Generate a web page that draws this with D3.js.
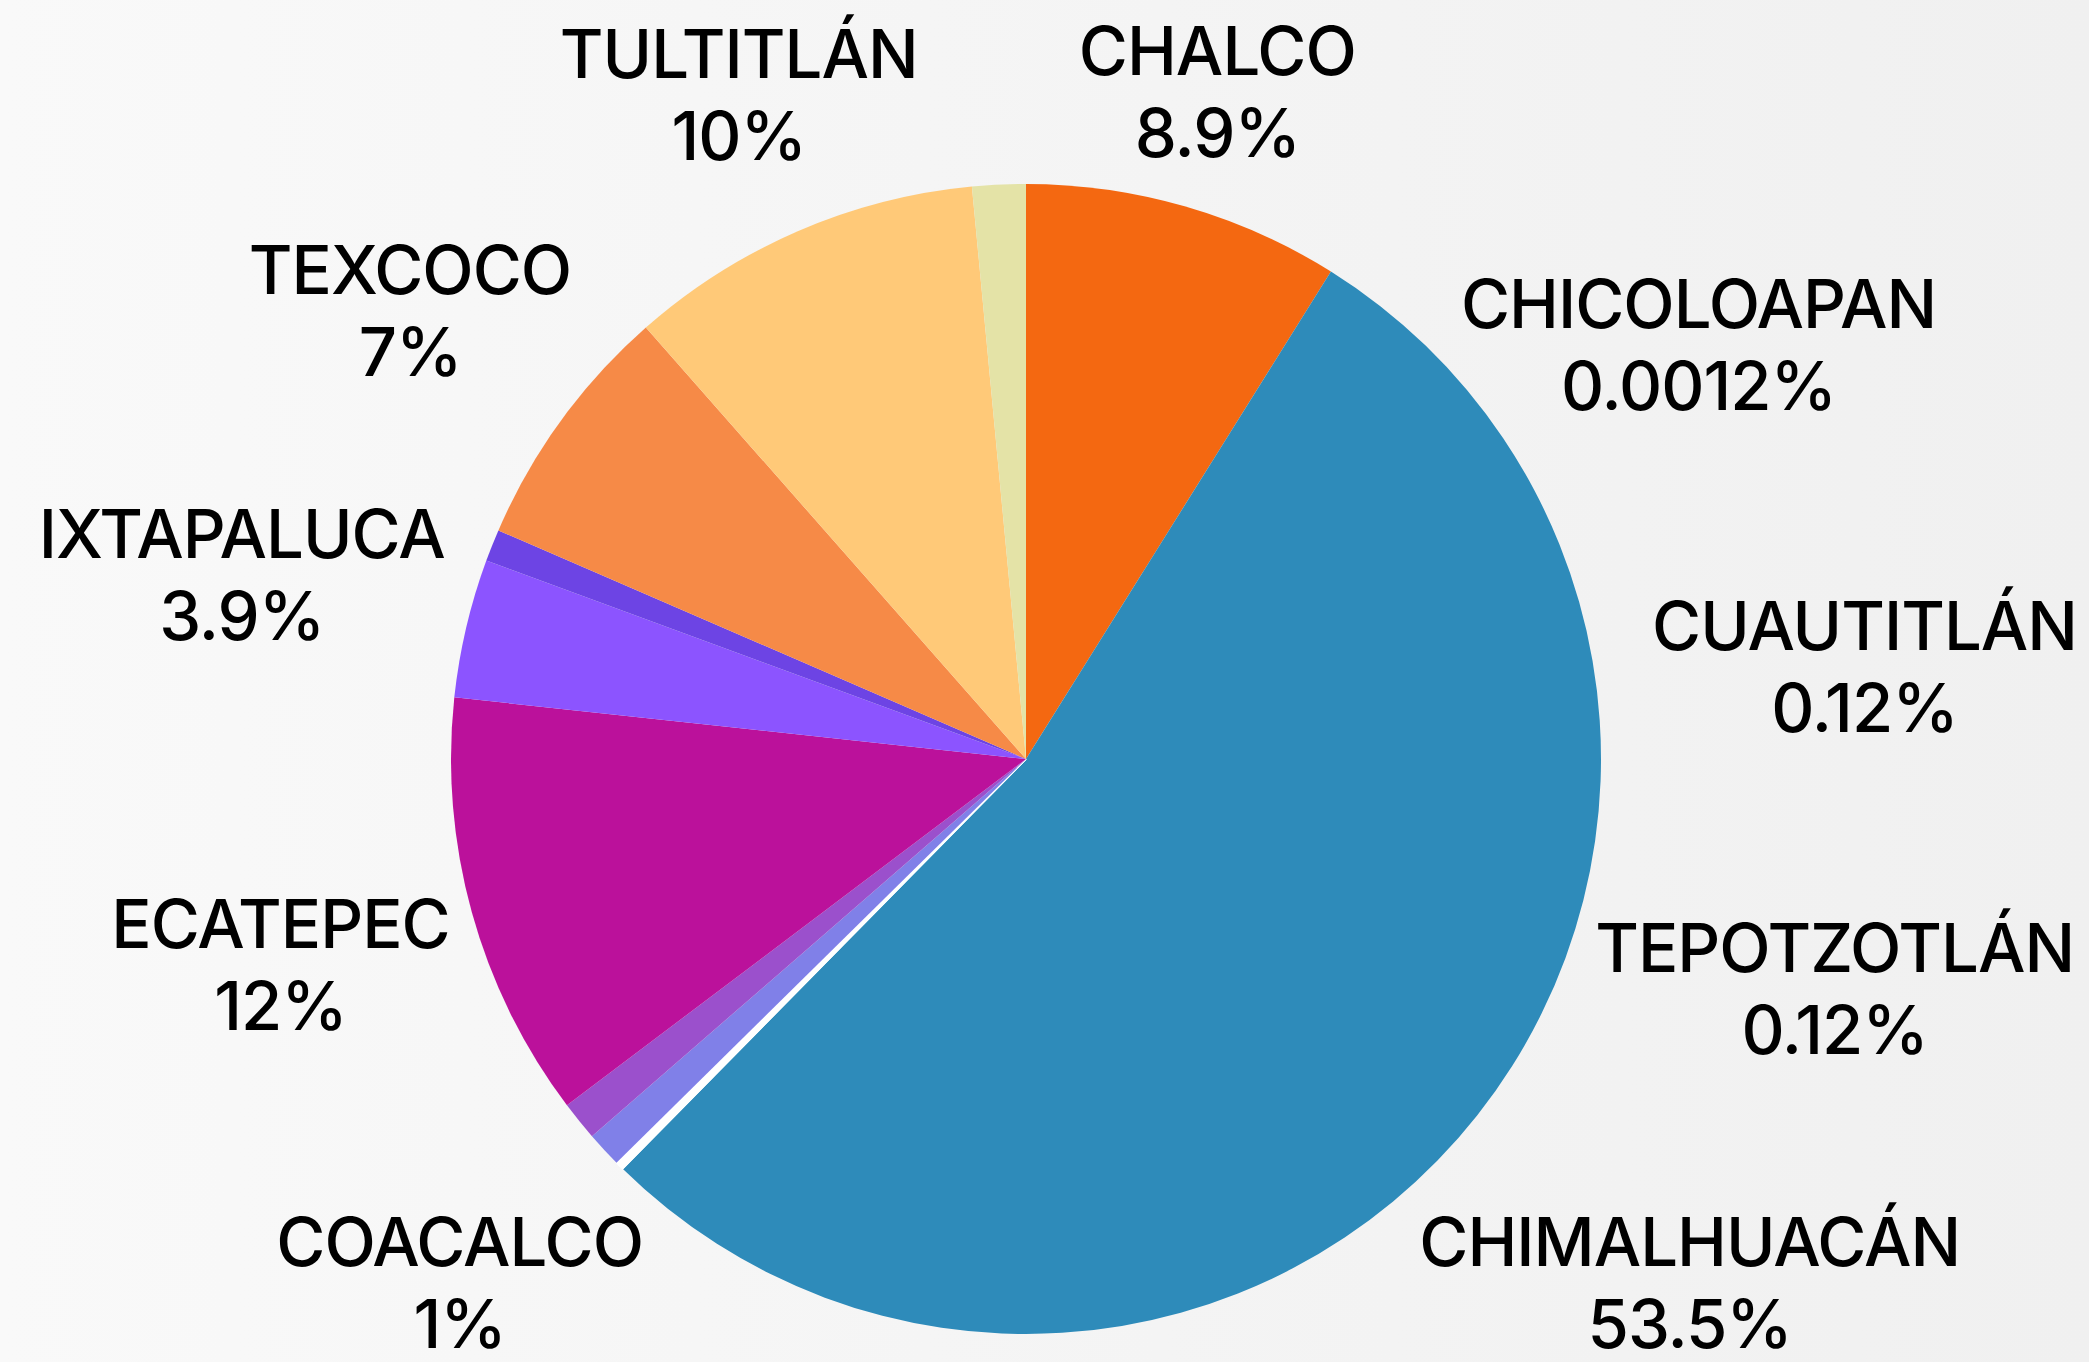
<!DOCTYPE html>
<html>
<head>
<meta charset="utf-8">
<script src="https://cdn.jsdelivr.net/npm/d3@7"></script>
<style>
  body { margin: 0; background: #f5f5f5; }
  text { font-family: Inter, "Noto Sans", sans-serif; font-weight: 500; fill: #000; letter-spacing: -1px; }
</style>
</head>
<body>
<div id="chart"></div>
<script>
// pie de municipios (orden de las rebanadas, empezando a las 12 y en sentido horario)
var municipios = ["CHALCO", "CHIMALHUACÁN", "CHICOLOAPAN", "CUAUTITLÁN", "TEPOTZOTLÁN", "COACALCO", "", "ECATEPEC", "IXTAPALUCA", "", "TEXCOCO", "TULTITLÁN", ""];
var porcentajes = [8.9, 53.5, 0.0012, 0.12, 0.12, 1, 1.1, 12, 3.9, 0.9, 7, 10, 1.5];
var colores = ["#f46811", "#2e8bba", "#ffffff", "#ffffff", "#ffffff", "#8080e8", "#9b50cc", "#bb119b", "#8c54ff", "#6d44e4", "#f68a47", "#ffc978", "#e4e3a7"];

var W = 2089, H = 1362;
var cx = 1026, cy = 759, r = 575;
var fontSize = 67, capH = 48, lineStep = 82;
var halfH = (capH + lineStep) / 2;
var gap = 18, margin = 12;

var svg = d3.select("#chart").append("svg").attr("width", W).attr("height", H);
var grad = svg.append("defs").append("linearGradient").attr("id", "bg").attr("x1", 0).attr("x2", 1).attr("y1", 0).attr("y2", 0);
grad.append("stop").attr("offset", "0%").attr("stop-color", "#f9f9f9");
grad.append("stop").attr("offset", "100%").attr("stop-color", "#f0f0f0");
svg.append("rect").attr("width", W).attr("height", H).attr("fill", "url(#bg)");

var data = municipios.map(function(m, i){ return {name: m, value: porcentajes[i], color: colores[i]}; });
var pie = d3.pie().sort(null).value(function(d){ return d.value; });
var arcs = pie(data);
var arc = d3.arc().innerRadius(0).outerRadius(r);

var g = svg.append("g").attr("transform", "translate(" + cx + "," + cy + ")");
g.selectAll("path").data(arcs).enter().append("path")
  .attr("d", arc)
  .attr("fill", function(d){ return d.data.color; })
  .attr("stroke", function(d){ return d.data.value < 0.5 ? "#ffffff" : "none"; })
  .attr("stroke-width", 1.5);

// etiquetas
var labeled = arcs.filter(function(d){ return d.data.name !== ""; });
var tiny = labeled.filter(function(d){ return d.data.value < 0.5; }).map(function(d){ return d.data.name; });
var tinyY = d3.scalePoint().domain(tiny).range([cy - 0.72 * r, cy + 0.40 * r]);

var labels = svg.append("g").selectAll("g").data(labeled).enter().append("g");
labels.append("text").attr("class", "l1").attr("text-anchor", "middle").style("font-size", fontSize + "px")
  .attr("y", capH - halfH).text(function(d){ return d.data.name; });
labels.append("text").attr("class", "l2").attr("text-anchor", "middle").style("font-size", fontSize + "px")
  .attr("y", halfH).text(function(d){ return d.data.value + "%"; });

labels.attr("transform", function(d){
  var w = d3.select(this).node().getBBox().width / 2;
  var x, y;
  if (d.data.value < 0.5) {
    y = tinyY(d.data.name);
    var t = (y - cy) / (1.15 * r);
    x = cx + 1.5 * r * Math.sqrt(1 - t * t);
  } else {
    var a = (d.startAngle + d.endAngle) / 2;
    var ux = Math.sin(a), uy = -Math.cos(a);
    var dist = r + gap + w * Math.abs(ux) + halfH * Math.abs(uy);
    x = cx + ux * dist; y = cy + uy * dist;
  }
  x = Math.min(x, W - margin - w);
  return "translate(" + x + "," + y + ")";
});
</script>
</body>
</html>
